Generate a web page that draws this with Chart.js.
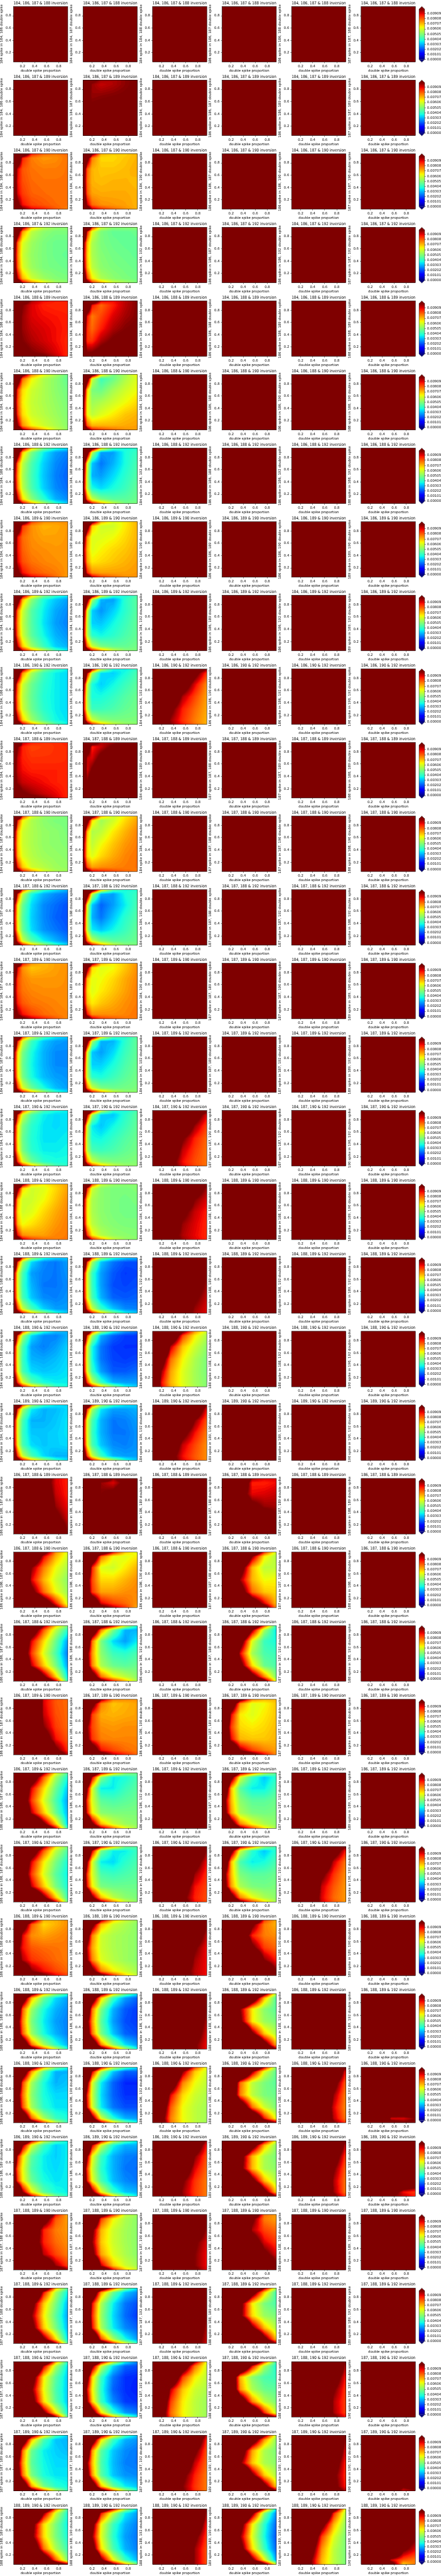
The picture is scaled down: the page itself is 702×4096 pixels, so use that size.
<!DOCTYPE html>
<html>
<head>
<title>Double spike error maps</title>
<script src="https://cdn.jsdelivr.net/npm/chart.js"></script>
<style>
    body { margin: 0; background: #fff; }
    #page { position: relative; width: 702px; height: 4096px; overflow: hidden; }
    canvas { position: absolute; }
</style>
</head>
<body>
<div id="page"></div>
<script>
// grid the surfaces were read on, top row first
const gridX = [0.05, 0.12, 0.2, 0.35, 0.55, 0.75, 0.95];
const gridY = [0.95, 0.88, 0.7, 0.5, 0.3, 0.12, 0.05];
const tickValues = [0.2, 0.4, 0.6, 0.8];
const cbarTicks = [0, 0.00101, 0.00202, 0.00303, 0.00404, 0.00505, 0.00606, 0.00707, 0.00808, 0.00909];
const rowIsotopes = [
    [184,186,187,188],[184,186,187,189],[184,186,187,190],[184,186,187,192],[184,186,188,189],
    [184,186,188,190],[184,186,188,192],[184,186,189,190],[184,186,189,192],[184,186,190,192],
    [184,187,188,189],[184,187,188,190],[184,187,188,192],[184,187,189,190],[184,187,189,192],
    [184,187,190,192],[184,188,189,190],[184,188,189,192],[184,188,190,192],[184,189,190,192],
    [186,187,188,189],[186,187,188,190],[186,187,188,192],[186,187,189,190],[186,187,189,192],
    [186,187,190,192],[186,188,189,190],[186,188,189,192],[186,188,190,192],[186,189,190,192],
    [187,188,189,190],[187,188,189,192],[187,188,190,192],[187,189,190,192],[188,189,190,192]
];

// values in units of 0.0001, 100 and above is saturated. F = panel saturated everywhere
const F = null;
const row01 = [F,F,F,F,F,F];
const row02 = [F,[130,120,105,97,96,99,102,130,110,98,94,96,99,102,125,105,98,99,100,101,102,120,105,102,103,104,105,105,120,105,105,105,105,105,105,120,105,105,105,105,105,105,120,105,105,105,105,105,105],F,F,F,F];
const row03 = [[200,200,130,88,80,78,80,200,130,88,78,75,76,79,130,92,82,79,78,78,79,120,90,83,80,79,79,79,125,92,85,81,80,79,79,150,105,90,84,82,80,79,200,130,103,92,88,82,77],
[200,200,105,72,69,69,72,200,110,78,68,68,70,72,120,82,72,70,70,71,73,115,80,72,71,72,72,71,120,82,74,73,73,73,72,140,95,80,76,75,74,72,200,120,95,86,80,76,72],F,F,F,F];
const row04 = [[200,200,105,70,58,53,52,200,115,75,58,52,50,50,125,80,62,54,50,48,48,115,78,60,53,50,48,47,120,80,62,54,50,49,48,140,95,72,60,54,51,50,200,125,95,78,65,55,52],
[200,160,90,60,52,52,52,180,90,62,50,47,47,48,110,72,56,50,48,47,47,105,70,56,51,49,48,47,110,72,58,52,50,49,48,130,85,66,56,52,50,49,190,115,88,74,60,55,50],F,F,F,F];
const row05 = [[200,200,115,96,90,88,88,180,130,100,92,88,87,87,130,106,98,92,90,89,88,125,105,98,94,92,90,88,130,108,100,96,93,90,87,150,120,105,100,97,92,87,200,140,115,106,102,95,86],
[200,200,125,92,90,95,100,200,130,90,80,88,95,100,140,90,78,84,92,97,100,125,86,80,88,96,100,102,120,86,86,96,102,105,106,130,100,100,105,108,110,110,200,125,115,115,112,112,112],F,F,F,F];
const row06 = [[200,200,110,78,65,56,48,200,120,80,65,56,52,47,130,85,68,60,56,52,49,120,82,66,59,56,53,50,125,85,68,60,57,54,51,145,100,76,65,60,56,52,200,130,100,85,72,60,53],
[200,200,120,68,50,55,65,200,115,60,42,48,56,62,125,70,50,48,55,60,64,110,65,54,56,60,64,68,105,65,58,62,66,70,72,120,82,72,72,72,73,74,200,110,90,85,80,76,74],F,F,F,F];
const row07 = [[200,200,105,70,50,40,35,200,115,70,50,36,28,25,120,78,58,44,33,26,23,110,75,56,43,32,25,22,115,78,58,44,33,26,23,140,95,68,52,40,30,26,200,125,95,75,58,42,33],
[200,200,120,70,45,38,40,200,115,58,28,28,38,42,125,62,32,24,30,38,44,115,58,30,28,34,40,45,110,58,38,34,38,42,47,125,80,60,50,46,46,48,200,115,92,75,60,50,50],F,F,F,F];
const row08 = [[200,200,120,84,76,75,76,200,130,86,76,72,73,75,130,90,80,76,74,74,75,120,90,81,77,76,75,75,125,92,83,79,77,76,75,145,105,90,83,80,78,75,200,130,102,92,87,80,74],
[200,200,110,72,62,66,72,200,115,70,60,60,66,72,120,76,62,62,64,68,72,105,72,62,65,68,70,73,110,74,66,68,70,72,74,130,88,76,74,74,74,75,200,120,95,85,80,76,75],F,F,F,F];
const row09 = [[200,200,105,72,52,42,36,200,115,72,52,38,32,28,120,78,60,45,36,29,26,110,76,58,45,35,28,25,115,78,60,46,37,30,27,140,95,70,54,42,33,30,200,125,95,76,60,44,36],
[200,200,118,68,44,38,44,200,110,56,30,28,40,46,125,62,33,27,33,40,46,112,58,33,32,37,42,47,108,58,40,37,40,44,47,125,80,60,50,47,47,49,200,115,92,75,60,52,50],F,F,F,F];
const row10 = [[200,200,105,72,52,42,36,200,118,76,55,42,36,34,122,80,60,48,40,36,34,112,76,58,47,39,36,34,116,78,60,48,40,36,34,140,96,70,54,44,37,35,200,125,95,76,60,46,36],
[200,190,100,60,38,36,42,190,95,55,34,33,38,44,115,60,38,33,37,42,46,105,56,38,38,41,45,48,102,58,42,42,44,47,49,118,78,60,52,50,50,50,190,110,88,72,60,54,52],
[300,300,280,220,170,125,100,300,300,260,200,145,108,85,300,280,220,160,115,92,76,300,240,180,125,96,84,74,280,200,140,105,88,80,73,260,180,125,98,86,78,72,260,180,125,100,88,79,72],F,F,F];
const row11 = [[200,160,95,88,86,86,88,150,100,88,84,85,86,87,115,94,88,86,86,86,87,108,94,90,88,88,88,87,112,98,94,92,90,88,87,130,110,102,98,94,91,87,200,125,110,105,100,93,87],
[200,200,115,96,97,105,110,190,120,88,94,103,110,115,150,94,92,105,112,118,120,135,92,102,115,122,125,125,130,100,115,125,130,130,130,140,125,130,135,135,135,135,200,150,140,140,140,140,140],F,F,F,F];
const row12 = [[200,160,88,62,54,52,50,180,88,65,56,52,50,50,115,72,60,56,53,52,50,108,70,60,56,53,52,51,112,72,62,57,54,53,52,130,88,70,60,57,54,53,200,115,90,76,62,56,54],
[200,200,118,72,60,66,72,200,112,68,54,60,68,74,125,72,56,58,66,72,77,108,68,58,64,70,75,78,105,68,62,68,73,77,79,118,84,74,76,77,78,79,190,112,92,88,84,80,78],F,F,F,F];
const row13 = [[190,150,86,58,42,36,30,170,88,58,38,30,26,24,110,66,48,34,26,23,20,105,64,46,33,26,22,20,108,66,48,34,27,24,21,130,86,60,46,36,30,25,200,115,92,72,56,42,34],
[200,200,122,72,46,38,40,200,115,58,30,28,38,42,128,62,32,22,28,36,44,115,58,30,24,32,40,45,110,58,36,32,37,42,47,125,80,60,50,46,46,48,200,115,92,75,60,52,50],F,F,F,F];
const row14 = [[200,150,90,76,72,74,76,160,92,76,70,72,74,76,115,84,78,75,75,75,76,108,84,79,77,76,76,76,112,88,82,79,78,77,76,132,100,90,84,80,78,77,200,125,105,95,88,82,76],
[200,190,105,72,66,70,76,190,105,68,62,64,70,76,118,72,63,64,68,73,77,105,68,62,66,70,74,78,108,72,66,70,73,76,78,128,90,76,76,76,77,79,200,120,95,85,82,79,78],F,F,F,F];
const row15 = [[190,150,86,60,44,36,32,170,88,60,42,32,28,27,110,68,50,38,30,26,26,105,66,48,37,30,26,26,108,68,50,38,31,28,27,130,86,62,48,38,31,28,200,115,92,72,56,42,35],
[200,200,118,68,44,40,46,200,110,56,30,30,40,47,125,62,32,28,34,42,47,112,58,33,33,38,44,48,108,58,40,38,42,46,49,125,80,60,50,48,49,50,200,115,92,75,60,53,52],F,F,F,F];
const row16 = [[190,150,86,60,44,38,36,170,88,60,44,36,34,35,110,68,50,40,35,34,35,105,66,48,39,35,35,36,108,68,50,40,36,36,37,130,86,62,48,40,38,38,200,115,92,72,56,44,40],
[200,190,105,62,40,38,44,190,98,55,33,32,40,46,115,60,36,32,37,42,47,105,56,38,37,41,45,48,102,58,44,42,44,47,49,120,78,60,52,50,50,51,190,110,88,72,60,54,52],
[300,300,280,220,170,130,105,300,300,260,200,150,112,92,300,280,220,165,122,98,84,300,240,190,140,102,88,80,280,210,160,120,94,85,79,270,200,150,108,90,83,79,270,200,150,110,92,84,79],F,F,F];
const row17 = [[200,190,105,72,66,70,74,190,105,68,60,62,68,74,118,72,60,60,64,70,76,105,68,60,62,68,73,77,108,72,64,67,71,75,78,128,90,76,74,74,77,78,200,120,95,85,80,78,78],
[190,150,86,60,54,52,52,170,88,60,52,50,50,51,110,68,56,52,50,49,50,105,66,56,52,50,49,49,108,68,58,53,51,50,50,128,86,66,57,53,52,51,200,115,90,74,60,54,52],
[300,300,280,220,170,130,105,300,300,260,200,150,112,97,300,280,220,165,122,100,92,300,240,190,140,105,94,88,280,210,160,118,98,92,87,270,200,150,108,96,91,87,270,200,150,110,98,92,87],F,F,F];
const row18 = [[190,150,86,56,40,34,32,170,85,55,34,26,24,28,108,62,44,28,25,24,27,104,62,42,30,24,24,26,106,64,44,32,26,25,27,128,85,60,44,33,28,28,200,115,92,70,55,40,33],
[190,150,86,56,40,34,30,170,85,55,32,24,20,20,108,62,42,28,21,18,19,104,62,42,28,20,19,20,106,64,44,30,22,21,22,128,85,60,42,32,26,25,200,115,92,70,52,38,33],
[300,300,300,280,220,160,108,300,300,300,260,200,150,104,300,300,280,220,170,125,100,300,300,260,200,150,110,97,300,280,240,180,130,103,94,300,270,220,160,115,98,92,300,270,220,160,112,97,92],F,F,F];
const row19 = [[190,150,86,56,40,32,30,170,85,55,34,26,25,30,108,62,44,28,25,28,33,104,62,42,30,29,31,34,106,64,44,34,32,33,35,128,85,62,46,38,36,36,200,115,92,72,56,42,38],
[190,150,86,56,38,28,24,170,85,55,30,22,18,18,108,62,38,24,18,17,17,104,60,38,24,19,18,19,106,62,42,28,21,21,23,128,85,60,42,30,28,28,200,115,92,70,52,38,33],
[300,300,250,160,105,76,60,300,300,220,130,85,66,56,300,250,160,95,70,60,52,280,170,115,80,65,56,50,230,135,98,74,62,55,50,210,120,90,72,62,55,51,210,120,92,74,63,56,51],F,F,F];
const row20 = [[190,150,86,56,42,36,34,170,85,55,36,30,31,34,108,62,44,30,30,32,35,104,62,42,32,32,33,35,106,64,44,34,32,33,34,128,85,60,44,34,30,30,200,115,92,72,56,42,35],
[190,150,86,56,42,36,33,170,85,55,35,28,28,30,108,62,44,30,24,25,28,104,62,42,30,24,24,27,106,64,44,32,26,25,27,128,85,60,42,30,28,28,200,115,92,72,56,40,32],
[300,300,300,250,190,140,100,300,300,280,220,170,125,90,300,280,240,180,130,100,82,300,260,210,150,108,90,78,280,230,170,120,94,84,76,270,210,155,108,90,82,76,270,210,155,110,92,83,76],F,F,F];
const row21 = [[300,280,240,170,115,92,88,300,280,240,170,112,92,88,300,280,240,180,118,94,88,300,290,250,190,130,98,90,300,300,260,200,145,106,93,300,300,270,220,165,125,98,300,300,280,230,175,130,100],
[300,280,200,125,98,110,125,300,280,170,98,92,105,120,300,260,130,100,105,115,125,300,260,150,120,125,130,135,300,270,180,140,145,150,150,300,280,200,160,160,160,160,300,280,200,165,165,165,165],F,
[300,280,220,140,97,92,92,300,280,220,130,88,88,90,300,280,200,112,91,92,94,300,280,210,125,106,98,97,300,280,220,145,125,112,103,300,290,240,170,150,130,115,300,290,240,175,155,135,120],F,F];
const row22 = [[300,280,240,170,112,76,62,300,260,200,135,92,72,60,280,220,160,100,78,64,56,260,200,145,92,72,60,52,280,230,170,108,80,64,54,300,280,220,160,120,88,60,300,300,240,180,140,105,72],
[300,250,190,130,92,70,62,280,200,130,80,64,62,66,220,140,88,62,60,66,72,170,110,84,68,68,72,76,180,115,86,74,74,76,77,240,180,130,92,84,80,75,280,220,150,110,96,86,72],F,
[300,280,240,190,140,88,60,300,270,220,160,100,66,56,280,240,180,115,72,58,58,270,220,160,98,72,64,65,280,230,180,115,80,70,68,300,280,240,170,120,92,70,300,300,260,190,150,115,75],F,F];
const row23 = [[300,280,220,150,100,70,50,300,250,190,120,82,58,40,270,200,130,92,68,48,28,250,180,120,85,62,44,24,270,200,140,95,70,50,28,300,270,220,150,105,70,35,300,300,240,180,130,95,40],
[300,250,180,120,95,62,38,280,200,130,78,50,30,30,220,130,80,50,34,28,36,170,105,76,52,42,40,44,180,110,78,56,48,46,48,240,170,120,80,65,58,52,280,220,150,110,88,72,55],F,
[300,280,240,190,140,85,40,300,270,220,160,100,55,35,280,240,180,115,62,42,38,270,220,160,92,55,44,42,280,230,180,110,68,48,44,300,280,240,170,112,78,50,300,300,260,190,150,110,60],F,F];
const row24 = [[300,280,240,170,92,82,80,300,280,230,160,92,82,80,300,270,220,150,94,83,80,300,280,230,160,100,85,80,300,290,240,180,115,90,82,300,300,270,210,160,105,86,300,300,280,230,175,125,95],
[300,240,170,100,78,76,76,280,190,110,78,70,72,74,200,120,85,73,72,73,74,160,100,84,76,75,76,76,170,105,86,78,77,77,77,230,170,120,90,84,80,78,280,220,150,115,95,88,80],F,
[300,250,180,110,78,72,72,280,200,125,76,62,64,70,230,150,92,66,62,66,70,190,115,85,68,66,68,71,200,125,92,72,70,70,72,260,200,140,100,85,78,74,300,240,180,130,110,92,76],F,F];
const row25 = [[300,280,220,150,100,65,45,300,250,190,120,82,55,38,270,200,130,92,68,48,32,250,180,120,85,62,44,28,270,200,140,95,70,48,30,300,270,220,150,105,70,32,300,300,240,180,130,95,40],
[300,200,140,95,72,55,48,280,150,95,52,36,38,44,180,100,62,36,36,42,46,125,85,62,46,44,46,48,130,90,66,52,50,50,50,200,150,105,72,60,54,52,270,200,130,100,80,64,54],F,
[300,220,160,100,80,60,46,280,170,110,62,42,32,40,200,115,72,46,36,36,44,150,95,72,52,46,46,48,160,100,75,56,50,49,50,220,170,115,78,64,56,52,270,220,150,105,85,68,55],F,F];
const row26 = [[300,280,220,150,100,68,50,300,250,190,120,82,58,44,270,200,130,92,66,50,38,250,180,120,85,62,46,36,270,200,140,95,70,50,38,300,270,220,150,105,70,42,300,300,240,180,130,95,48],
[300,200,140,95,72,50,45,280,150,95,50,36,36,42,180,100,62,36,34,40,44,125,85,62,44,42,44,46,130,90,66,50,48,48,48,200,150,105,72,58,52,50,270,200,130,100,78,60,52],
[300,300,300,280,220,150,102,300,300,300,260,200,130,98,300,300,280,230,170,110,90,300,300,260,200,140,98,86,300,290,240,170,115,90,84,300,280,220,150,105,88,83,300,280,220,150,110,90,83],
[300,220,160,100,80,55,42,280,170,110,60,40,32,40,200,115,72,44,36,38,44,150,95,72,50,46,46,48,160,100,75,56,50,49,50,220,170,115,78,64,56,52,270,220,150,105,85,68,55],
[300,300,300,260,200,135,100,300,300,290,230,170,115,88,300,300,260,190,130,94,78,300,300,240,165,105,86,76,300,290,210,140,94,82,75,300,280,200,125,92,80,75,300,280,200,125,94,82,75],F];
const row27 = [[300,260,190,110,72,72,76,280,200,120,82,68,72,76,220,130,92,76,74,76,78,150,105,90,82,80,79,78,170,115,96,86,83,80,78,240,180,130,100,90,84,80,280,220,160,125,105,92,84],
[300,230,170,100,70,60,54,280,180,110,72,60,56,52,190,115,78,60,56,54,52,140,95,74,60,56,54,52,155,100,78,62,57,54,52,220,160,110,78,66,60,55,280,220,150,110,88,70,58],
[300,300,300,280,220,160,103,300,300,300,260,200,140,100,300,300,280,230,170,115,94,300,300,260,200,145,102,90,300,290,240,175,122,97,90,300,280,220,150,108,95,90,300,280,220,150,112,96,90],
[300,300,280,220,150,85,72,300,300,260,180,105,78,72,300,280,220,125,88,78,76,300,300,250,170,105,85,80,300,300,280,200,140,100,88,300,300,300,240,180,130,100,300,300,300,250,190,150,110],F,F];
const row28 = [[300,260,190,110,72,55,40,280,200,120,72,48,34,28,220,130,82,54,38,30,26,160,108,78,50,36,28,25,180,115,82,54,38,30,25,250,190,130,80,56,40,30,290,230,170,115,85,62,40],
[300,260,190,110,70,50,36,280,200,120,70,42,28,22,220,130,80,50,30,21,18,160,105,76,46,28,20,18,180,115,80,50,32,22,20,250,190,130,78,52,35,28,290,230,170,115,85,58,38],
[300,300,300,300,260,180,106,300,300,300,300,240,160,103,300,300,300,280,210,130,100,300,300,300,260,180,115,96,300,300,290,230,160,110,92,300,300,280,220,145,102,90,300,300,280,220,145,102,90],
[300,300,280,220,170,110,55,300,300,260,180,125,72,44,300,250,180,100,66,52,46,300,260,190,105,66,54,50,300,300,250,170,105,70,56,300,300,300,230,170,115,72,300,300,300,240,190,140,100],F,F];
const row29 = [[300,260,190,115,75,52,38,280,200,125,75,46,30,30,220,135,85,55,38,30,32,165,110,80,52,38,34,34,185,118,84,55,40,35,35,250,190,135,82,56,42,38,290,230,170,118,86,60,42],
[300,210,150,95,62,45,35,280,160,95,55,32,22,22,190,105,62,36,22,16,16,130,88,60,34,22,17,17,140,92,62,36,24,20,20,210,160,110,62,40,30,28,280,220,140,100,70,50,38],
[300,300,260,190,130,85,62,300,290,240,160,100,70,60,300,280,200,125,78,64,58,290,230,140,92,68,60,56,270,200,120,82,64,58,55,260,180,110,78,64,58,55,260,180,115,80,65,58,54],
[300,300,280,210,150,95,50,300,280,240,160,100,62,46,300,220,140,80,58,50,46,280,210,130,78,58,50,48,300,270,200,130,80,60,50,300,300,280,200,140,90,62,300,300,300,230,170,125,100],
[300,300,300,300,250,170,100,300,300,300,290,220,140,88,300,300,300,260,180,110,80,300,300,290,230,150,98,77,300,300,280,210,130,92,76,300,300,280,210,135,95,78,300,300,290,220,145,102,85],
[200,200,200,200,200,200,200,200,200,200,200,200,200,200,200,200,200,200,200,200,200,200,200,200,200,200,200,200,200,200,200,190,150,140,130,200,200,200,150,92,92,100,200,200,200,170,110,102,105]];
const row30 = [[300,210,150,95,62,45,36,280,160,100,62,42,33,36,160,90,68,46,36,33,36,112,80,64,44,36,34,36,118,85,66,48,38,35,36,200,150,100,66,46,38,36,280,210,130,95,70,50,40],
[300,210,150,95,62,45,36,280,160,95,60,38,30,30,180,100,64,42,30,25,24,125,85,60,40,30,24,23,135,90,64,44,31,26,24,205,160,105,64,42,32,30,280,220,140,100,70,48,36],
[300,300,300,280,220,140,95,300,300,300,260,190,120,88,300,300,280,220,150,100,82,300,300,260,180,120,92,80,300,290,230,150,102,86,78,300,280,210,135,98,85,78,300,280,210,135,100,86,78],
[300,300,280,220,160,100,60,300,300,260,180,115,72,52,300,270,200,112,72,56,50,300,270,200,108,72,56,52,300,300,260,175,110,72,56,300,300,300,240,170,110,68,300,300,300,240,190,140,100],
[300,300,300,300,250,170,100,300,300,300,290,220,140,92,300,300,300,260,190,115,84,300,300,290,230,160,102,80,300,300,280,210,140,96,78,300,300,280,205,140,98,78,300,300,290,215,150,105,85],
[200,200,200,200,200,200,200,200,200,200,200,200,200,200,200,200,200,200,200,200,200,200,200,200,200,200,200,200,200,200,200,200,180,140,125,200,200,200,170,115,90,85,200,200,200,170,100,95,88]];
const row31 = [[300,300,270,210,150,90,72,300,290,250,180,115,82,74,300,270,220,130,88,78,75,300,260,210,120,88,80,76,300,280,230,140,95,84,78,300,300,270,190,130,98,84,300,300,280,220,160,125,100],
[300,260,200,120,88,60,54,290,230,150,85,65,56,52,260,170,105,72,60,55,52,230,155,100,70,60,55,52,250,175,108,74,62,56,52,290,230,170,95,70,60,55,300,270,200,130,92,70,60],
[300,300,300,300,260,170,105,300,300,300,280,220,150,102,300,300,300,260,180,120,97,300,300,280,230,160,103,92,300,300,270,210,140,100,90,300,300,270,210,140,100,90,300,300,280,220,150,105,92],
[300,300,280,230,130,80,74,300,300,280,210,105,78,74,300,300,270,180,96,84,80,300,300,290,210,115,92,85,300,300,300,240,150,106,92,300,300,300,270,190,140,102,300,300,300,280,210,160,115],F,F];
const row32 = [[300,300,270,200,130,72,45,300,290,240,160,90,56,36,300,250,180,110,70,50,30,290,230,160,100,66,46,28,300,250,180,110,70,50,30,300,290,240,160,105,68,34,300,300,270,200,140,100,45],
[300,260,200,125,85,52,35,290,220,130,75,48,32,26,240,150,92,56,36,24,20,200,135,88,54,34,23,18,225,150,92,56,36,26,22,290,220,150,85,56,38,28,300,270,190,125,90,64,42],
[300,300,300,300,280,200,108,300,300,300,300,260,180,106,300,300,300,290,240,150,103,300,300,300,280,210,130,100,300,300,300,260,190,115,96,300,300,300,250,170,108,94,300,300,300,250,170,108,93],
[300,300,280,220,160,100,55,300,300,260,180,115,70,42,300,270,190,108,66,50,44,300,270,200,105,68,54,50,300,300,260,170,105,72,56,300,300,300,240,170,110,70,300,300,300,240,190,140,100],F,F];
const row33 = [[300,300,280,210,140,75,40,300,290,250,170,95,56,34,300,260,190,115,66,46,32,290,240,170,102,64,44,32,300,260,190,112,68,46,32,300,300,250,170,105,66,36,300,300,280,210,150,100,46],
[300,220,160,100,65,38,26,280,170,105,60,34,22,20,200,110,70,42,24,17,16,140,92,66,40,22,17,15,155,100,70,42,26,18,17,225,170,115,68,42,28,24,280,230,150,105,75,52,38],
[300,300,270,200,150,100,62,300,300,250,175,120,80,60,300,290,210,135,85,66,58,300,240,150,95,70,60,56,280,210,125,85,66,58,54,270,190,115,80,65,58,54,270,190,115,82,66,58,54],
[300,300,280,210,140,85,42,300,280,240,150,92,56,38,300,210,130,72,52,44,42,280,210,130,76,56,48,46,300,270,200,125,78,58,50,300,300,280,200,140,88,58,300,300,300,230,170,125,100],
[300,300,300,300,250,170,100,300,300,300,290,220,140,94,300,300,300,260,190,115,88,300,300,290,230,160,102,85,300,300,280,210,140,96,84,300,300,280,205,140,97,84,300,300,290,215,150,105,90],F];
const row34 = [[300,240,190,110,72,45,32,290,200,125,72,44,32,30,200,130,80,48,36,33,31,150,105,76,46,37,34,34,170,115,80,50,38,35,35,240,190,130,75,50,40,37,290,230,170,115,85,58,42],
[300,230,170,105,70,45,32,290,190,120,68,42,30,27,200,125,76,46,32,26,24,145,100,72,44,31,25,24,165,110,76,46,32,27,26,235,185,125,72,48,36,32,290,230,165,115,82,56,40],
[300,300,300,280,230,150,92,300,300,300,260,200,125,86,300,300,290,225,160,105,82,300,300,265,190,125,94,80,300,295,240,155,105,88,78,300,285,215,140,100,86,78,300,285,215,140,102,87,78],
[300,300,280,220,165,105,58,300,300,260,185,120,76,52,300,280,205,120,74,56,50,300,270,195,102,70,56,52,300,300,255,165,105,70,56,300,300,300,240,170,110,68,300,300,300,240,190,140,100],
[300,300,300,300,280,190,100,300,300,300,300,260,165,95,300,300,300,280,220,130,90,300,300,300,260,190,112,87,300,300,290,240,165,104,86,300,300,290,240,165,106,88,300,300,300,250,175,115,95],
[200,200,200,200,200,200,200,200,200,200,200,200,200,200,200,200,200,200,200,200,200,200,200,200,200,200,200,200,200,200,200,200,200,200,200,200,200,200,190,125,102,112,200,200,200,190,118,92,98]];
const row35 = [[300,300,280,210,140,80,44,300,290,250,170,100,60,38,300,260,190,110,68,50,36,290,250,180,105,68,50,38,300,280,220,130,80,56,42,300,300,270,190,125,82,50,300,300,290,220,170,125,100],
[300,280,220,140,95,58,34,300,240,160,90,58,36,28,270,180,110,64,42,30,25,240,165,100,62,40,28,24,260,180,115,68,44,30,25,300,250,180,105,65,42,30,300,290,220,150,105,75,50],
[300,300,300,300,260,180,100,300,300,300,300,240,150,95,300,300,300,270,200,125,88,300,300,300,240,170,105,85,300,300,290,220,150,98,82,300,300,280,210,145,98,82,300,300,280,210,145,98,82],
[300,300,280,220,150,88,34,300,290,250,170,105,52,26,300,260,190,112,66,40,22,290,240,170,100,62,38,20,300,260,190,112,68,42,22,300,300,250,170,105,65,28,300,300,290,220,165,110,60],
[300,300,300,250,190,120,60,300,300,290,220,155,88,56,300,300,270,170,110,72,52,300,290,220,135,85,62,50,300,270,190,118,76,58,50,300,260,180,105,72,58,50,300,260,180,105,72,58,50],
[200,200,200,200,200,200,200,200,200,200,200,200,200,200,200,200,200,200,200,150,112,200,200,200,200,170,115,103,200,200,200,200,160,105,92,200,200,200,140,92,82,78,200,200,200,150,115,68,78]];
const allRows = [row01,row02,row03,row04,row05,row06,row07,row08,row09,row10,row11,row12,row13,row14,row15,row16,row17,row18,row19,row20,row21,row22,row23,row24,row25,row26,row27,row28,row29,row30,row31,row32,row33,row34,row35];

const S = 702 / 1296;
const PITCH = 4096 / 35;

function jetPart(t, pts) {
    for (let i = 1; i < pts.length; i++) {
        if (t <= pts[i][0]) {
            const a = pts[i - 1], b = pts[i];
            return a[1] + (b[1] - a[1]) * (t - a[0]) / (b[0] - a[0]);
        }
    }
    return pts[pts.length - 1][1];
}
function jet(t) {
    return [
        jetPart(t, [[0,0],[0.35,0],[0.66,1],[0.89,1],[1,0.5]]) * 255,
        jetPart(t, [[0,0],[0.125,0],[0.375,1],[0.64,1],[0.91,0],[1,0]]) * 255,
        jetPart(t, [[0,0.5],[0.11,1],[0.34,1],[0.65,0],[1,0]]) * 255
    ];
}
// contourf has 99 bands between 0 and 0.01
const NBANDS = 99;
function bandColor(v) {
    if (v >= 0.01) return [127, 0, 0];
    if (v <= 0) return [0, 0, 127];
    const k = Math.floor(v / 0.01 * NBANDS);
    return jet((k + 0.5) / NBANDS);
}

function bracket(arr, v) {
    // arr may run either way
    for (let i = 0; i < arr.length - 1; i++) {
        const lo = Math.min(arr[i], arr[i + 1]), hi = Math.max(arr[i], arr[i + 1]);
        if (v >= lo && v <= hi) return [i, (v - arr[i]) / (arr[i + 1] - arr[i])];
    }
    return v < Math.min(arr[0], arr[arr.length - 1]) ? [arr[0] < arr[1] ? 0 : arr.length - 2, arr[0] < arr[1] ? 0 : 1] : [arr[0] < arr[1] ? arr.length - 2 : 0, arr[0] < arr[1] ? 1 : 0];
}

const surfacePlugin = {
    id: 'surface',
    beforeDatasetsDraw(chart) {
        const ctx = chart.ctx;
        const xs = chart.scales.x, ys = chart.scales.y;
        const pts = chart.data.datasets[0].data;
        const left = xs.getPixelForValue(0.05), right = xs.getPixelForValue(0.95);
        const top = ys.getPixelForValue(0.95), bottom = ys.getPixelForValue(0.05);
        if (pts.every(p => p.v >= 0.01)) {
            ctx.fillStyle = 'rgb(127,0,0)';
            ctx.fillRect(left, top, right - left, bottom - top);
            return;
        }
        const w = Math.ceil(right - left) * 2, h = Math.ceil(bottom - top) * 2;
        const off = document.createElement('canvas');
        off.width = w; off.height = h;
        const octx = off.getContext('2d');
        const img = octx.createImageData(w, h);
        const nx = gridX.length;
        for (let j = 0; j < h; j++) {
            const yv = ys.getValueForPixel(top + (j + 0.5) / h * (bottom - top));
            const [gj, fy] = bracket(gridY, yv);
            for (let i = 0; i < w; i++) {
                const xv = xs.getValueForPixel(left + (i + 0.5) / w * (right - left));
                const [gi, fx] = bracket(gridX, xv);
                const a = pts[gj * nx + gi].v, b = pts[gj * nx + gi + 1].v;
                const c = pts[(gj + 1) * nx + gi].v, d = pts[(gj + 1) * nx + gi + 1].v;
                const v = (a * (1 - fx) + b * fx) * (1 - fy) + (c * (1 - fx) + d * fx) * fy;
                const col = bandColor(v);
                const p = (j * w + i) * 4;
                img.data[p] = col[0]; img.data[p + 1] = col[1]; img.data[p + 2] = col[2]; img.data[p + 3] = 255;
            }
        }
        octx.putImageData(img, 0, 0);
        ctx.save();
        ctx.imageSmoothingEnabled = true;
        ctx.imageSmoothingQuality = 'high';
        ctx.drawImage(off, left, top, right - left, bottom - top);
        ctx.restore();
    },
    afterDatasetsDraw(chart) {
        const a = chart.chartArea, ctx = chart.ctx;
        ctx.save();
        ctx.strokeStyle = '#000';
        ctx.lineWidth = 0.55;
        ctx.strokeRect(a.left, a.top, a.right - a.left, a.bottom - a.top);
        ctx.restore();
    }
};

const colorbarEnds = {
    id: 'colorbarEnds',
    afterDatasetsDraw(chart) {
        const a = chart.chartArea, ctx = chart.ctx;
        const ext = 7.5 * S, mid = (a.left + a.right) / 2;
        ctx.save();
        ctx.fillStyle = 'rgb(127,0,0)';
        ctx.beginPath();
        ctx.moveTo(a.left, a.top + 0.2); ctx.lineTo(mid, a.top - ext); ctx.lineTo(a.right, a.top + 0.2);
        ctx.closePath(); ctx.fill();
        ctx.fillStyle = 'rgb(0,0,127)';
        ctx.beginPath();
        ctx.moveTo(a.left, a.bottom - 0.2); ctx.lineTo(mid, a.bottom + ext); ctx.lineTo(a.right, a.bottom - 0.2);
        ctx.closePath(); ctx.fill();
        ctx.strokeStyle = '#222';
        ctx.lineWidth = 0.5;
        ctx.beginPath();
        ctx.moveTo(a.left, a.top); ctx.lineTo(mid, a.top - ext); ctx.lineTo(a.right, a.top);
        ctx.lineTo(a.right, a.bottom); ctx.lineTo(mid, a.bottom + ext); ctx.lineTo(a.left, a.bottom);
        ctx.closePath(); ctx.stroke();
        ctx.restore();
    }
};

const page = document.getElementById('page');
function addCanvas(x, y, w, h) {
    const c = document.createElement('canvas');
    c.width = w; c.height = h;
    c.style.left = x + 'px';
    c.style.top = y + 'px';
    c.style.width = w + 'px';
    c.style.height = h + 'px';
    page.appendChild(c);
    return c;
}

const FONT = 'DejaVu Sans';
const TICK_SIZE = 10 * S, TITLE_SIZE = 12 * S;
const pairs = [[0,1],[0,2],[0,3],[1,2],[1,3],[2,3]];
const colLeft = c => (39.7 + 204.3 * c) * S;
const plotW = 159.5 * S, plotTop = 19 * S, plotBottom = 182 * S;
const axisW = 40 * S;

function drawPanel(r, c, iso, values) {
    const cx = Math.floor(colLeft(c) - axisW);
    const fx = colLeft(c) - axisW - cx;
    const y0 = r * PITCH, cy = Math.floor(y0), fy = y0 - cy;
    const W = 124, H = 119;
    const aTop = fy + plotTop, aBottom = fy + plotBottom;
    const [p, q] = pairs[c];
    const points = [];
    gridY.forEach((gy, j) => gridX.forEach((gx, i) => {
        points.push({ x: gx, y: gy, v: values ? values[j * gridX.length + i] / 10000 : 0.02 });
    }));
    new Chart(addCanvas(cx, cy, W, H), {
        type: 'scatter',
        data: { datasets: [{ data: points, pointRadius: 0 }] },
        plugins: [surfacePlugin],
        options: {
            responsive: false,
            animation: false,
            events: [],
            layout: { padding: { left: 0, top: 0, bottom: 0, right: W - (fx + axisW + plotW) } },
            plugins: {
                legend: { display: false },
                tooltip: { enabled: false },
                title: {
                    display: true,
                    fullSize: false,
                    text: `${iso[0]}, ${iso[1]}, ${iso[2]} & ${iso[3]} inversion`,
                    color: '#000',
                    font: { family: FONT, size: TITLE_SIZE, weight: 'normal', lineHeight: 1.2 },
                    padding: { top: aTop - TITLE_SIZE * 1.2 - 1.5, bottom: 1.5 }
                }
            },
            scales: {
                x: {
                    type: 'linear', min: 0.05, max: 0.95,
                    afterBuildTicks: axis => { axis.ticks = tickValues.map(v => ({ value: v })); },
                    afterFit: s => { s.height = H - aBottom; },
                    border: { display: false },
                    grid: { drawOnChartArea: false, drawTicks: true, tickLength: 3.5 * S, color: '#000', lineWidth: 0.5 },
                    ticks: { autoSkip: false, maxRotation: 0, padding: 1.4, color: '#000', font: { family: FONT, size: TICK_SIZE }, callback: v => v.toFixed(1) },
                    title: { display: true, text: 'double spike proportion', color: '#000', font: { family: FONT, size: TICK_SIZE, lineHeight: 1.2 }, padding: { top: 0, bottom: H - fy - 207 * S - TICK_SIZE * 0.6 } }
                },
                y: {
                    type: 'linear', min: 0.05, max: 0.95,
                    afterBuildTicks: axis => { axis.ticks = tickValues.map(v => ({ value: v })); },
                    afterFit: s => { s.width = fx + axisW; },
                    border: { display: false },
                    grid: { drawOnChartArea: false, drawTicks: true, tickLength: 3.5 * S, color: '#000', lineWidth: 0.5 },
                    ticks: { autoSkip: false, padding: 1.9, color: '#000', font: { family: FONT, size: TICK_SIZE }, callback: v => v.toFixed(1) },
                    title: { display: true, text: `${iso[p]} spike in ${iso[p]}, ${iso[q]} double spike`, color: '#000', font: { family: FONT, size: TICK_SIZE, lineHeight: 1.2 }, padding: { top: 0.8, bottom: 0 } }
                }
            }
        }
    });
}

function drawColorbar(r) {
    const left = 1231.6 * S, right = 1247.8 * S;
    const cx = Math.floor(left - 7), cy = Math.floor(r * PITCH), fy = r * PITCH - cy;
    const W = 702 - cx, H = 119;
    const datasets = [];
    for (let k = 0; k < NBANDS; k++) {
        const col = 'rgb(' + jet((k + 0.5) / NBANDS).map(Math.round).join(',') + ')';
        // each band runs up to the top so the next one paints over it, no seams between them
        datasets.push({ data: [[k / NBANDS * 0.01, 0.01]], backgroundColor: col, borderWidth: 0, grouped: false, barPercentage: 1, categoryPercentage: 1, order: NBANDS - k });
    }
    new Chart(addCanvas(cx, cy, W, H), {
        type: 'bar',
        data: { labels: [''], datasets },
        plugins: [colorbarEnds],
        options: {
            responsive: false,
            animation: false,
            events: [],
            layout: { padding: { left: left - cx, top: fy + 26.5 * S, bottom: H - fy - 175 * S, right: 0 } },
            plugins: { legend: { display: false }, tooltip: { enabled: false } },
            scales: {
                x: { display: false },
                y: {
                    position: 'right', min: 0, max: 0.01,
                    afterBuildTicks: axis => { axis.ticks = cbarTicks.map(v => ({ value: v })); },
                    afterFit: s => { s.width = W - (right - cx); },
                    border: { display: false },
                    grid: { drawOnChartArea: false, drawTicks: true, tickLength: 3.5 * S, color: '#000', lineWidth: 0.5 },
                    ticks: { autoSkip: false, padding: 2, color: '#000', font: { family: FONT, size: TICK_SIZE }, callback: v => v.toFixed(5) }
                }
            }
        }
    });
}

for (let r = 0; r < rowIsotopes.length; r++) {
    for (let c = 0; c < 6; c++) drawPanel(r, c, rowIsotopes[r], allRows[r][c]);
    drawColorbar(r);
}
</script>
</body>
</html>
